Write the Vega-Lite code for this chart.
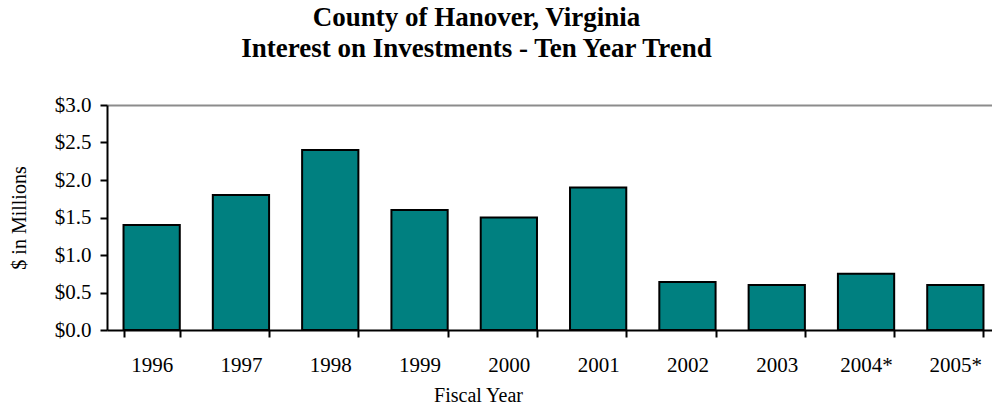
{
  "$schema": "https://vega.github.io/schema/vega-lite/v6.json",
  "width": 885,
  "height": 225,
  "autosize": {"type": "none"},
  "padding": {"left": 107, "top": 105, "right": 0, "bottom": 76},
  "background": "white",
  "title": {
    "text": ["County of Hanover, Virginia", "Interest on Investments - Ten Year Trend"],
    "font": "Liberation Serif",
    "fontSize": 27,
    "fontWeight": "bold",
    "color": "black",
    "anchor": "middle",
    "dx": -73,
    "lineHeight": 31,
    "offset": 31
  },
  "data": {
    "values": [
      {"year": "1996", "value": 1.4},
      {"year": "1997", "value": 1.8},
      {"year": "1998", "value": 2.4},
      {"year": "1999", "value": 1.6},
      {"year": "2000", "value": 1.5},
      {"year": "2001", "value": 1.9},
      {"year": "2002", "value": 0.64},
      {"year": "2003", "value": 0.6},
      {"year": "2004*", "value": 0.75},
      {"year": "2005*", "value": 0.6}
    ]
  },
  "mark": {"type": "bar", "fill": "#008080", "stroke": "black", "strokeWidth": 2},
  "encoding": {
    "x": {
      "field": "year",
      "type": "ordinal",
      "sort": null,
      "scale": {"range": [0, 893], "paddingInner": 0.37, "paddingOuter": 0.185},
      "axis": {
        "title": "Fiscal Year",
        "titleFont": "Liberation Serif",
        "titleFontSize": 20,
        "titleFontWeight": "normal",
        "titleColor": "black",
        "titleX": 371,
        "titlePadding": 10,
        "labelFont": "Liberation Serif",
        "labelFontSize": 21,
        "labelColor": "black",
        "labelAngle": 0,
        "labelPadding": 17,
        "domainColor": "black",
        "domainWidth": 2,
        "tickColor": "black",
        "tickWidth": 2,
        "tickSize": 7,
        "tickBand": "extent"
      }
    },
    "y": {
      "field": "value",
      "type": "quantitative",
      "scale": {"domain": [0, 3], "nice": false},
      "axis": {
        "title": "$ in Millions",
        "titleFont": "Liberation Serif",
        "titleFontSize": 20,
        "titleFontWeight": "normal",
        "titleColor": "black",
        "titlePadding": 25,
        "values": [0, 0.5, 1, 1.5, 2, 2.5, 3],
        "format": "$.1f",
        "labelFont": "Liberation Serif",
        "labelFontSize": 21,
        "labelColor": "black",
        "labelPadding": 9,
        "domainColor": "black",
        "domainWidth": 2,
        "tickColor": "black",
        "tickWidth": 2,
        "tickSize": 7,
        "grid": true,
        "gridWidth": 2,
        "gridColor": {"condition": {"test": "datum.value === 3", "value": "#8c8c8c"}, "value": "transparent"}
      }
    }
  },
  "config": {"view": {"stroke": null}}
}
